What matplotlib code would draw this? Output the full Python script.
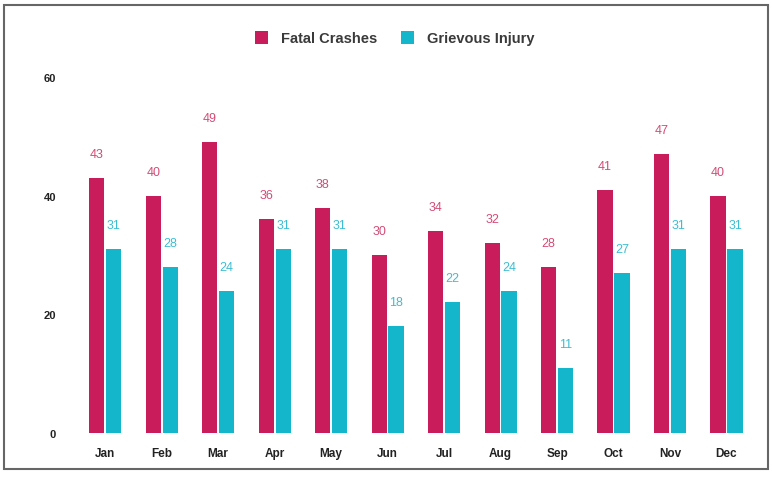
import matplotlib as mpl
mpl.use('Agg')
import matplotlib.pyplot as plt
import numpy as np
from matplotlib.patches import Rectangle

months = ['Jan', 'Feb', 'Mar', 'Apr', 'May', 'Jun', 'Jul', 'Aug', 'Sep', 'Oct', 'Nov', 'Dec']
fatal = [43, 40, 49, 36, 38, 30, 34, 32, 28, 41, 47, 40]
grievous = [31, 28, 24, 31, 31, 18, 22, 24, 11, 27, 31, 31]

c_fatal = '#C91D5B'
c_griev = '#14B6CC'

plt.rcParams['font.family'] = ['Liberation Sans', 'DejaVu Sans']

fig = plt.figure(figsize=(7.72, 4.81), dpi=100)
ax = fig.add_axes([0.0997, 0.0977, 0.878, 0.740])

x = np.arange(len(months))
w = 0.27
b1 = ax.bar(x - w / 2 - 0.015, fatal, w, color=c_fatal, label='Fatal Crashes')
b2 = ax.bar(x + w / 2 + 0.015, grievous, w, color=c_griev, label='Grievous Injury')

# value labels above bars
for xi, v in zip(x, fatal):
    ax.annotate(str(v), (xi - w / 2 - 0.015, v), xytext=(0, 13), textcoords='offset points',
                ha='center', va='bottom', fontsize=9, color='#D24C77')
for xi, v in zip(x, grievous):
    ax.annotate(str(v), (xi + w / 2 + 0.015, v), xytext=(0, 13), textcoords='offset points',
                ha='center', va='bottom', fontsize=9, color='#3DBDD1')

ax.set_xlim(-0.5, 11.5)
ax.set_ylim(0, 60)
ax.set_xticks(x)
ax.set_xticklabels(months, fontsize=8.5, fontweight='bold', color='#222222')
ax.set_yticks([0, 20, 40, 60])
ax.set_yticklabels(['0', '20', '40', '60'], fontsize=8, fontweight='bold', color='#222222')
ax.tick_params(length=0)
ax.tick_params(axis='y', pad=15)
ax.tick_params(axis='x', pad=10)
for s in ax.spines.values():
    s.set_visible(False)

leg = fig.legend(handles=[b1, b2], loc='center', bbox_to_anchor=(0.511, 0.919), ncol=2,
                 frameon=False, prop={'size': 10.5, 'weight': 'bold'},
                 handlelength=0.9, handleheight=1.0,
                 handletextpad=0.9, columnspacing=1.6)
for t in leg.get_texts():
    t.set_color('#3a3a3a')

# outer frame
fig.patches.append(Rectangle((4 / 772, 1 - 470 / 481), 764 / 772, 464 / 481,
                             transform=fig.transFigure, fill=False,
                             edgecolor='#666666', linewidth=1.5))

plt.savefig('out.png')
plt.close(fig)
